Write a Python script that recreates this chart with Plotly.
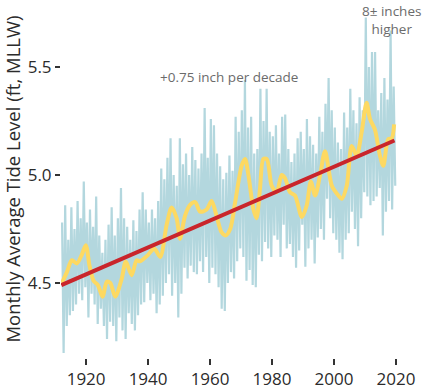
import plotly.graph_objects as go

# ---- data ----
years = list(range(1912, 2020))
monthly_high = [
    4.78, 4.86, 4.70, 4.85, 4.75, 4.88, 4.80, 4.97, 4.78, 4.84,
    4.76, 4.90, 4.72, 4.64, 4.70, 4.77, 4.85, 4.72, 4.80, 4.94,
    4.80, 4.76, 4.70, 4.79, 4.74, 4.84, 4.92, 4.84, 4.78, 4.84,
    4.80, 4.88, 5.03, 4.98, 5.08, 5.17, 5.00, 4.95, 5.17, 5.05,
    5.10, 5.00, 5.13, 5.07, 5.03, 5.10, 5.31, 5.08, 5.26, 5.23,
    5.10, 5.04, 4.98, 5.01, 5.09, 5.02, 5.27, 5.20, 5.30, 5.44,
    5.22, 5.27, 5.10, 5.12, 5.40, 5.25, 5.40, 5.20, 5.18, 5.23,
    5.10, 5.27, 5.28, 5.12, 5.06, 5.10, 5.17, 5.20, 5.12, 5.26,
    5.18, 5.14, 5.10, 5.27, 5.20, 5.33, 5.45, 5.30, 5.22, 5.15,
    5.12, 5.29, 5.22, 5.40, 5.30, 5.24, 5.36, 5.30, 5.73, 5.50,
    5.57, 5.57, 5.30, 5.38, 5.45, 5.35, 5.67, 5.41,
]
monthly_low = [
    4.175, 4.30, 4.35, 4.37, 4.40, 4.45, 4.42, 4.48, 4.34, 4.45,
    4.40, 4.31, 4.38, 4.30, 4.24, 4.32, 4.30, 4.23, 4.34, 4.28,
    4.24, 4.36, 4.31, 4.28, 4.35, 4.40, 4.41, 4.50, 4.42, 4.45,
    4.36, 4.40, 4.44, 4.50, 4.54, 4.44, 4.50, 4.34, 4.45, 4.57,
    4.52, 4.58, 4.55, 4.54, 4.60, 4.55, 4.62, 4.50, 4.57, 4.54,
    4.48, 4.38, 4.37, 4.50, 4.55, 4.52, 4.60, 4.66, 4.62, 4.51,
    4.56, 4.49, 4.48, 4.63, 4.60, 4.69, 4.66, 4.62, 4.72, 4.70,
    4.62, 4.77, 4.66, 4.68, 4.62, 4.57, 4.65, 4.77, 4.575, 4.66,
    4.70, 4.59, 4.71, 4.75, 4.70, 4.89, 4.80, 4.73, 4.70, 4.64,
    4.61, 4.70, 4.73, 4.83, 4.75, 4.67, 4.80, 4.92, 4.90, 4.86,
    4.88, 4.90, 4.94, 4.72, 4.83, 4.88, 4.84, 4.95,
]

smooth_years = [
    1912.2, 1913.8, 1915.4, 1917.0, 1918.6, 1919.9, 1921.1, 1922.4, 1923.8,
    1925.3, 1926.7, 1927.8, 1929.4, 1931.5, 1932.8, 1934.7, 1936.3, 1937.4,
    1940.0, 1942.0, 1943.9, 1946.0, 1947.6, 1949.2, 1950.3, 1951.9, 1953.5,
    1955.2, 1956.8, 1958.9, 1960.5, 1962.1, 1963.7, 1965.0, 1966.5, 1968.1,
    1970.2, 1971.3, 1972.4, 1974.0, 1975.0, 1976.1, 1977.2, 1978.3, 1979.9,
    1981.5, 1983.1, 1984.2, 1985.8, 1987.4, 1989.6, 1991.2, 1992.5, 1993.9,
    1995.5, 1997.1, 1999.3, 2001.4, 2002.5, 2004.1, 2005.7, 2007.3, 2008.9,
    2010.5, 2011.6, 2013.2, 2014.8, 2015.9, 2017.5, 2018.6, 2019.4,
]
smooth_values = [
    4.50, 4.55, 4.605, 4.59, 4.63, 4.675, 4.58, 4.51, 4.49,
    4.436, 4.506, 4.50, 4.436, 4.52, 4.598, 4.536, 4.605, 4.60,
    4.63, 4.66, 4.62, 4.77, 4.85, 4.80, 4.705, 4.81, 4.86,
    4.874, 4.83, 4.84, 4.88, 4.81, 4.735, 4.72, 4.75, 4.874,
    5.043, 5.074, 4.997, 4.84, 4.80, 4.935, 5.074, 5.074, 4.95,
    4.92, 5.00, 4.985, 4.92, 4.905, 4.805, 4.86, 4.97, 4.905,
    5.00, 5.11, 4.95, 4.905, 4.89, 4.95, 5.135, 5.09, 5.197,
    5.335, 5.26, 5.21, 5.09, 5.043, 5.166, 5.17, 5.235,
]

trend_years = [1912.0, 2019.5]
trend_values = [4.49, 5.16]

x_ticks = [1920, 1940, 1960, 1980, 2000, 2020]
y_ticks = [4.5, 5.0, 5.5]

# ---- build the monthly zig-zag from the yearly high / low readings ----
blue_x, blue_y = [], []
for yr, hi, lo in zip(years, monthly_high, monthly_low):
    blue_x += [yr + 0.25, yr + 0.75]
    blue_y += [hi, lo]

FONT = "'Open Sans', Lato, sans-serif"

fig = go.Figure()
fig.add_trace(go.Scatter(x=blue_x, y=blue_y, mode="lines",
                         line=dict(color="#b3d7de", width=2.2),
                         hoverinfo="skip", showlegend=False))
fig.add_trace(go.Scatter(x=smooth_years, y=smooth_values, mode="lines",
                         line=dict(color="#fdd962", width=4, shape="spline", smoothing=0.8),
                         showlegend=False))
fig.add_trace(go.Scatter(x=trend_years, y=trend_values, mode="lines",
                         line=dict(color="#c9252b", width=4),
                         showlegend=False))

fig.add_annotation(x=1966.2, y=5.456, text="+0.75 inch per decade", showarrow=False,
                   font=dict(family=FONT, size=13.5, color="#6b6b6b"))
fig.add_annotation(x=2018.7, y=1.0, yref="paper", text="8± inches<br>higher",
                   showarrow=False, yanchor="top",
                   font=dict(family=FONT, size=13.5, color="#6b6b6b"),
                   align="center")

fig.update_layout(
    width=423, height=390,
    margin=dict(l=61, r=18, t=0, b=30),
    paper_bgcolor="white", plot_bgcolor="white",
    font=dict(family=FONT, color="#2b2b2b"),
    xaxis=dict(range=[1911.9, 2022.9], tickvals=x_ticks,
               ticks="outside", ticklen=6, tickwidth=1.5, tickcolor="#333333",
               showgrid=False, zeroline=False, showline=False,
               tickfont=dict(size=17, color="#2b2b2b")),
    yaxis=dict(range=[4.152, 5.811], tickvals=y_ticks, tickformat=".1f",
               ticks="outside", ticklen=5, tickwidth=1.5, tickcolor="#333333",
               showgrid=False, zeroline=False, showline=False,
               tickfont=dict(size=17, color="#2b2b2b"),
               title=dict(text="Monthly Average Tide Level (ft, MLLW)",
                          font=dict(size=18.5, color="#2b2b2b"), standoff=4)),
)

fig.write_html("out.html", config={"displayModeBar": False},
               post_script="document.body.style.margin='0';")
